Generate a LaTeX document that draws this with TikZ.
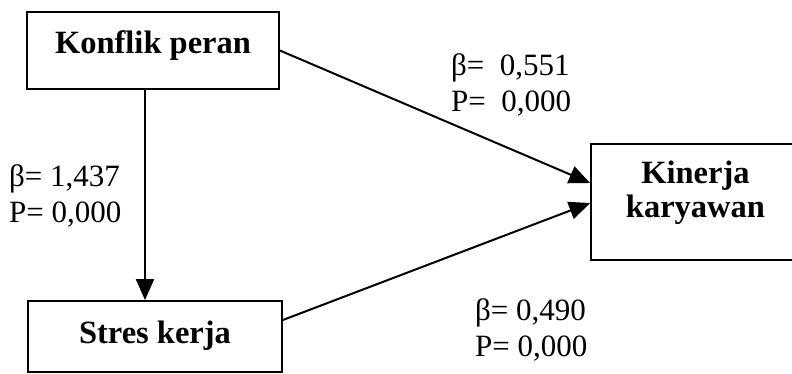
\documentclass[tikz,border=0pt]{standalone}
\usepackage{fontspec}
\setmainfont{Liberation Serif}
\usetikzlibrary{arrows.meta}
\tikzset{
  varbox/.style={draw=black, line width=1.8pt, inner sep=0pt,
    font=\fontsize{32.5}{35}\selectfont\bfseries},
  coef/.style={inner sep=0pt, align=left, anchor=west,
    font=\fontsize{31}{36}\selectfont},
  path/.style={draw=black, line width=2pt,
    -{Triangle[length=21pt,width=18pt]}}
}
\begin{document}
\begin{tikzpicture}[x=1pt,y=-1pt]
\useasboundingbox (0,0) rectangle (792,374);
\clip (0,0) rectangle (792,374);
\fill[white] (0,0) rectangle (792,374);
\node[varbox, minimum width=252pt, minimum height=77pt, text height=22pt, text depth=15pt]
  (konflik) at (153,50.5) {Konflik peran};
\node[varbox, minimum width=254pt, minimum height=71pt, text height=22pt, text depth=9pt]
  (stres) at (155,336.5) {Stres kerja};
\node[varbox, minimum width=209pt, minimum height=116pt]
  (kinerja) at (695.5,202) {\raisebox{8pt}[\height][\depth]{\begin{tabular}{@{}c@{}}Kinerja\\[-1pt]karyawan\end{tabular}}};
\node[coef] (c1) at (451,85) {β=\ \ 0,551\\P=\ \ 0,000};
\node[coef] (c2) at (9,196) {β= 1,437\\P= 0,000};
\node[coef] (c3) at (475,330) {β= 0,490\\P= 0,000};
\draw[path] (konflik.east) -- ([yshift=19pt]kinerja.west);
\draw[path] ([yshift=16.5pt]stres.east) -- ([yshift=-1pt]kinerja.west);
\draw[path] ([xshift=-8pt]konflik.south) -- ([xshift=-10pt]stres.north);
\end{tikzpicture}
\end{document}
